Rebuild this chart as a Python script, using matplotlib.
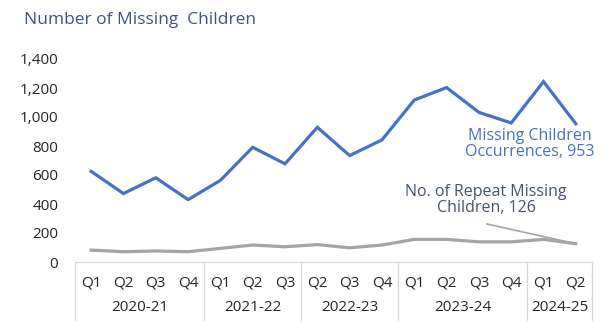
import matplotlib.pyplot as plt
from matplotlib.lines import Line2D

quarters = ['Q1', 'Q2', 'Q3', 'Q4', 'Q1', 'Q2', 'Q3', 'Q2', 'Q3', 'Q4',
            'Q1', 'Q2', 'Q3', 'Q4', 'Q1', 'Q2']
years = ['2020-21', '2021-22', '2022-23', '2023-24', '2024-25']
year_sizes = [4, 3, 3, 4, 2]

occurrences = [625, 472, 581, 430, 563, 791, 677, 929, 734, 842,
               1117, 1203, 1032, 959, 1244, 953]
repeat_children = [82, 71, 76, 71, 94, 117, 105, 120, 98, 117,
                   156, 156, 139, 139, 156, 126]

blue = '#4472C4'
grey = '#A5A5A5'
slate = '#44546A'
title_blue = '#3E5384'
font = 'Open Sans'

fig = plt.figure(figsize=(6.03, 3.24), dpi=100)
ax = fig.add_axes([75 / 603, 1 - 262 / 324, (592 - 75) / 603, (262 - 59) / 324])

x = list(range(len(quarters)))
ax.plot(x, occurrences, color=blue, lw=2.3, solid_joinstyle='miter')
ax.plot(x, repeat_children, color=grey, lw=2.3)

ax.set_xlim(-0.5, len(quarters) - 0.5)
ax.set_ylim(0, 1400)
ax.set_yticks(range(0, 1401, 200))
ax.set_yticklabels([f'{v:,}' for v in range(0, 1401, 200)],
                   fontsize=11, family=font, color='#262626')
ax.tick_params(axis='y', length=0, pad=12)
ax.set_xticks([])
for s in ['top', 'right', 'left']:
    ax.spines[s].set_visible(False)
ax.spines['bottom'].set_color('#D9D9D9')

# two-level category axis: quarter labels, year labels and separators
tr = ax.get_xaxis_transform()
for i, q in enumerate(quarters):
    ax.text(i, -0.105, q, transform=tr, ha='center', va='center',
            fontsize=11, family=font, color='#262626')
edge = -0.5
bounds = [edge]
for yr, n in zip(years, year_sizes):
    ax.text(edge + n / 2, -0.225, yr, transform=tr, ha='center', va='center',
            fontsize=11, family=font, color='#262626')
    edge += n
    bounds.append(edge)
for b in bounds:
    ax.add_line(Line2D([b, b], [0, -0.285], transform=tr, color='#D9D9D9',
                       lw=1, clip_on=False))

# series labels
ax.text(13.56, 817, 'Missing Children\nOccurrences, 953', ha='center',
        va='center', fontsize=11.5, family=font, color=blue, linespacing=1.0)
ax.text(12.22, 431, 'No. of Repeat Missing\nChildren, 126', ha='center',
        va='center', fontsize=11.5, family=font, color=slate, linespacing=1.0)
ax.plot([12.25, 15], [262, 126], color=grey, lw=1.2)

fig.text(24 / 603, 1 - 20 / 324, 'Number of Missing  Children', ha='left',
         va='center', fontsize=12.5, family=font, color=title_blue)

fig.savefig('out.png', dpi=100)
